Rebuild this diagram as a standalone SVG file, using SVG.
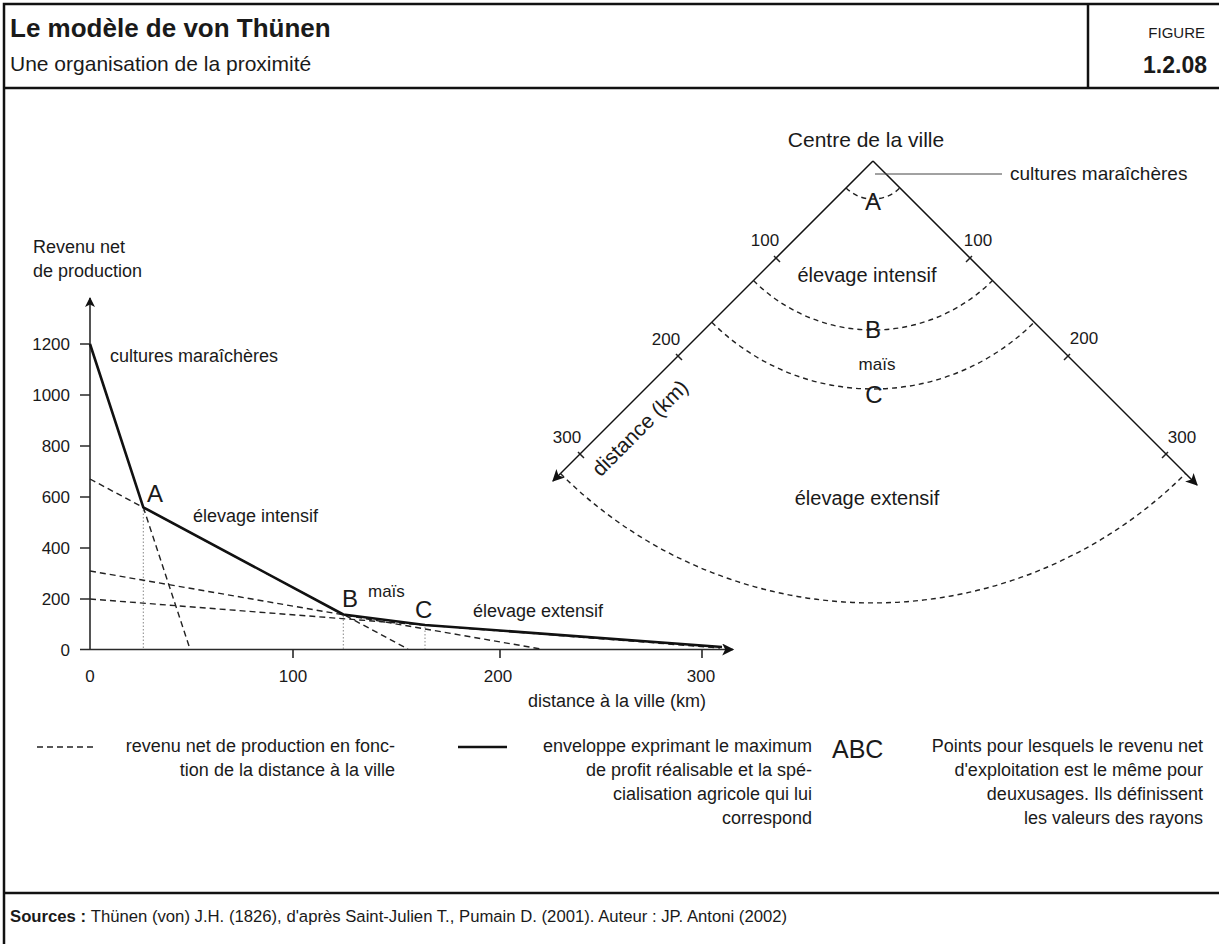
<svg xmlns="http://www.w3.org/2000/svg" width="1219" height="944" viewBox="0 0 1219 944">
<style>
text{font-family:"Liberation Sans",Arial,sans-serif;fill:#1a1a1a}
.t18{font-size:18px}
.t17{font-size:17px}
.t20{font-size:20px}
.big{font-size:24px}
.frame{fill:none;stroke:#111;stroke-width:2.5}
.axis{fill:none;stroke:#2a2a2a;stroke-width:1.6}
.env{fill:none;stroke:#111;stroke-width:2.6;stroke-linejoin:round}
.dash{fill:none;stroke:#222;stroke-width:1.4;stroke-dasharray:6 4}
.dot{fill:none;stroke:#888;stroke-width:1;stroke-dasharray:1.5 2}
.edge{fill:none;stroke:#111;stroke-width:1.5}
.arc{fill:none;stroke:#222;stroke-width:1.4;stroke-dasharray:5 4}
.tick{stroke:#222;stroke-width:1.5}
.mid{text-anchor:middle}
.end{text-anchor:end}
</style>
<defs>
<marker id="ah" viewBox="0 0 10 10" refX="9" refY="5" markerUnits="userSpaceOnUse" markerWidth="17" markerHeight="12" orient="auto">
<path d="M0,0 L10,5 L0,10 L2.5,5 z" fill="#111"/>
</marker>
<marker id="ahs" viewBox="0 0 10 10" refX="9" refY="5" markerUnits="userSpaceOnUse" markerWidth="12" markerHeight="10" orient="auto">
<path d="M0,0 L10,5 L0,10 L2.5,5 z" fill="#111"/>
</marker>
</defs>
<rect width="1219" height="944" fill="#fff"/>

<g id="frame">
<path class="frame" d="M4,950 V4 H1225"/>
<line class="frame" x1="4" y1="88" x2="1225" y2="88"/>
<line class="frame" x1="1088" y1="4" x2="1088" y2="88"/>
<line class="frame" x1="4" y1="893" x2="1225" y2="893"/>
</g>

<g id="header">
<text x="10" y="37" font-size="26" font-weight="bold">Le modèle de von Thünen</text>
<text x="10" y="71" font-size="21">Une organisation de la proximité</text>
<text x="1205" y="38" font-size="15" class="end">FIGURE</text>
<text x="1207" y="73" font-size="23" font-weight="bold" class="end">1.2.08</text>
</g>

<g id="chart">
<g id="chart-axes">
<line class="axis" x1="90" y1="650" x2="90" y2="298" marker-end="url(#ahs)"/>
<line class="axis" x1="80" y1="649.5" x2="733" y2="649.5" marker-end="url(#ah)"/>
<path class="axis" d="M80,344 H90 M80,395 H90 M80,446 H90 M80,497 H90 M80,548 H90 M80,599 H90 M293,649.5 V658 M500,649.5 V658 M702,649.5 V658"/>
</g>
<g id="chart-lines">
<line class="dot" x1="143.3" y1="510" x2="143.3" y2="649"/>
<line class="dot" x1="343.3" y1="616" x2="343.3" y2="649"/>
<line class="dot" x1="425" y1="627" x2="425" y2="649"/>
<line class="dash" x1="143.3" y1="507.3" x2="190" y2="649"/>
<line class="dash" x1="90" y1="479" x2="408" y2="649"/>
<line class="dash" x1="90" y1="571" x2="541" y2="649"/>
<line class="dash" x1="90" y1="599" x2="720" y2="648"/>
<polyline class="env" points="90,344 143.3,507.3 343.3,614.5 425,625 722,647"/>
</g>
<g id="chart-labels">
<text class="t18" x="33" y="253">Revenu net</text>
<text class="t18" x="33" y="277">de production</text>
<text class="t17 end" x="70" y="350">1200</text>
<text class="t17 end" x="70" y="401">1000</text>
<text class="t17 end" x="70" y="452">800</text>
<text class="t17 end" x="70" y="503">600</text>
<text class="t17 end" x="70" y="554">400</text>
<text class="t17 end" x="70" y="605">200</text>
<text class="t17 end" x="70" y="656">0</text>
<text class="t17 mid" x="90" y="682">0</text>
<text class="t17 mid" x="293" y="682">100</text>
<text class="t17 mid" x="498" y="682">200</text>
<text class="t17 mid" x="701" y="682">300</text>
<text class="t18" x="528" y="707">distance à la ville (km)</text>
<text class="t18" x="110" y="362">cultures maraîchères</text>
<text class="big" x="147" y="502">A</text>
<text class="t18" x="193" y="522">élevage intensif</text>
<text class="big" x="342" y="607">B</text>
<text class="t17" x="368" y="597">maïs</text>
<text class="big" x="415" y="618">C</text>
<text class="t18" x="473" y="617">élevage extensif</text>
</g>
</g>

<g id="fan">
<g id="fan-edges">
<line class="edge" x1="873" y1="161" x2="553" y2="481" marker-end="url(#ah)"/>
<line class="edge" x1="873" y1="161" x2="1197" y2="485" marker-end="url(#ah)"/>
<path class="tick" d="M774,256 L780,262 M676,354 L682,360 M578,452 L584,458 M972,256 L966,262 M1070,354 L1064,360 M1168,452 L1162,458"/>
<line x1="875" y1="174" x2="1002" y2="174" stroke="#444" stroke-width="1"/>
</g>
<g id="fan-arcs">
<path class="arc" d="M846.1,187.9 A38,38 0 0 0 899.9,187.9"/>
<path class="arc" d="M753.5,280.5 A169,169 0 0 0 992.5,280.5"/>
<path class="arc" d="M711.8,322.2 A228,228 0 0 0 1034.2,322.2"/>
<path class="arc" d="M560.5,473.5 A442,442 0 0 0 1185.5,473.5"/>
</g>
<g id="fan-labels">
<text class="mid" x="866" y="147" font-size="21">Centre de la ville</text>
<text x="1010" y="180" font-size="19">cultures maraîchères</text>
<text class="big mid" x="873" y="210">A</text>
<text class="t17 mid" x="765" y="246">100</text>
<text class="t17 mid" x="978" y="246">100</text>
<text class="t20 mid" x="867" y="282">élevage intensif</text>
<text class="big mid" x="873" y="338">B</text>
<text class="t17 mid" x="666" y="345">200</text>
<text class="t17 mid" x="1084" y="344">200</text>
<text class="t17 mid" x="877" y="370">maïs</text>
<text class="big mid" x="874" y="403">C</text>
<text class="t17 mid" x="567" y="443">300</text>
<text class="t17 mid" x="1182" y="443">300</text>
<text class="mid" x="0" y="0" font-size="21" transform="translate(645,433) rotate(-45)">distance (km)</text>
<text class="t20 mid" x="867" y="505">élevage extensif</text>
</g>
</g>

<g id="legend">
<line class="dash" x1="37" y1="747" x2="93" y2="747"/>
<text class="t18 end" x="395" y="752">revenu net de production en fonc-</text>
<text class="t18 end" x="395" y="776">tion de la distance à la ville</text>
<line x1="458" y1="747" x2="507" y2="747" stroke="#111" stroke-width="2.6"/>
<text class="t18 end" x="812" y="752">enveloppe exprimant le maximum</text>
<text class="t18 end" x="812" y="776">de profit réalisable et la spé-</text>
<text class="t18 end" x="812" y="800">cialisation agricole qui lui</text>
<text class="t18 end" x="812" y="824">correspond</text>
<text x="832" y="758" font-size="25">ABC</text>
<text class="t18 end" x="1203" y="752">Points pour lesquels le revenu net</text>
<text class="t18 end" x="1203" y="776">d'exploitation est le même pour</text>
<text class="t18 end" x="1203" y="800">deuxusages. Ils définissent</text>
<text class="t18 end" x="1203" y="824">les valeurs des rayons</text>
</g>

<g id="footer">
<text x="10" y="922" font-size="16.7"><tspan font-weight="bold">Sources : </tspan>Thünen (von) J.H. (1826), d'après Saint-Julien T., Pumain D. (2001). Auteur : JP. Antoni (2002)</text>
</g>
</svg>
